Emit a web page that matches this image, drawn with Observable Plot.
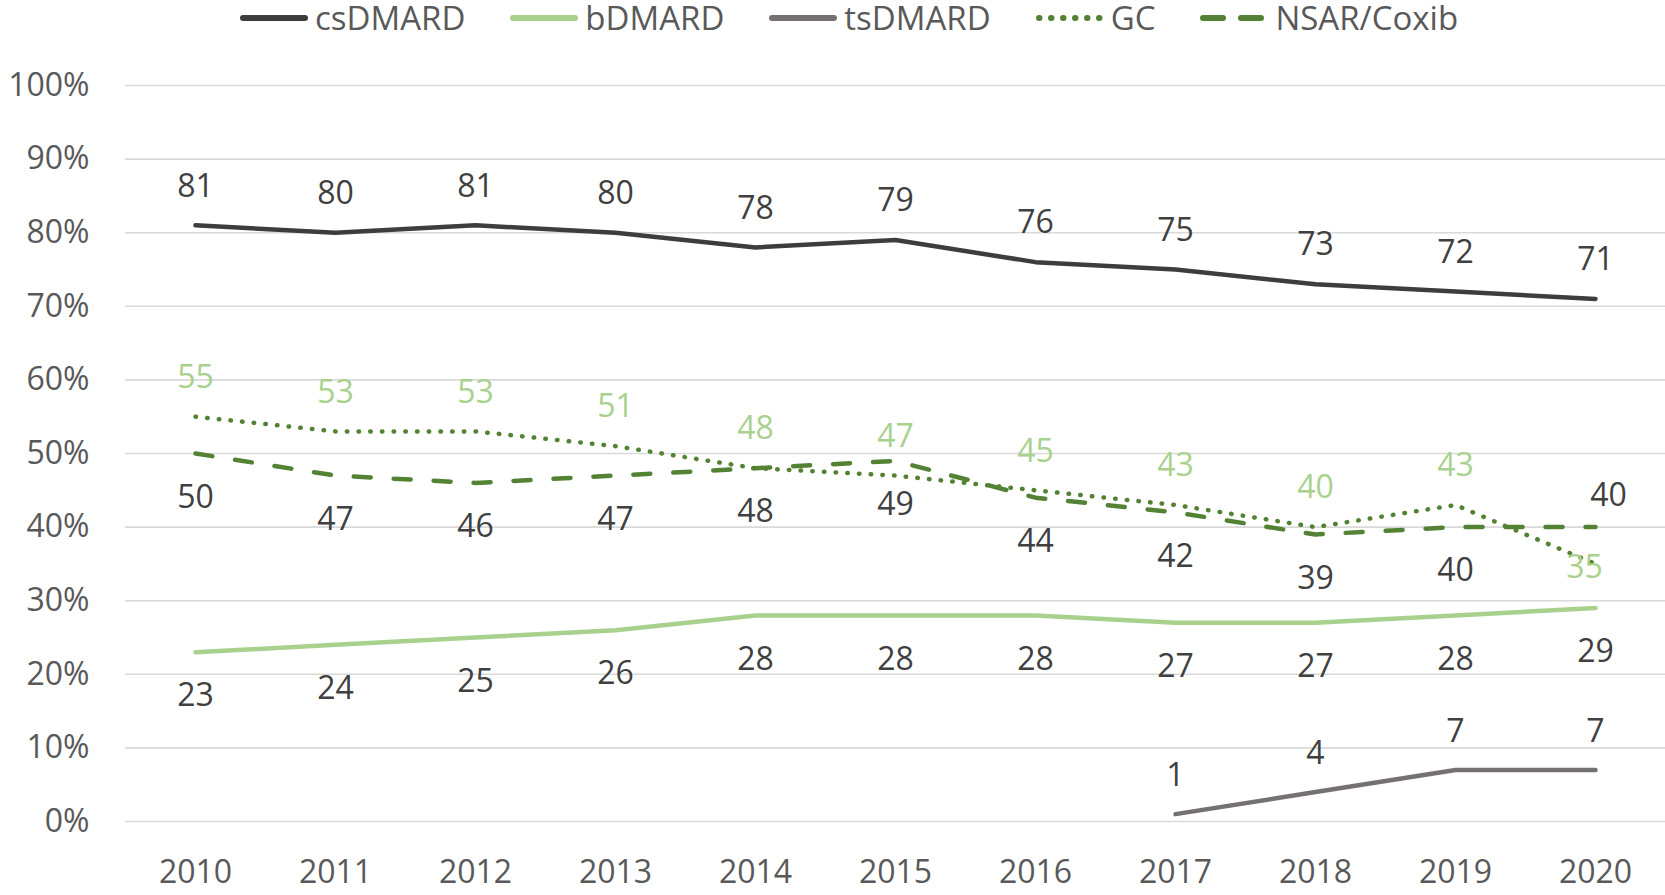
<!DOCTYPE html>
<html>
<head>
<meta charset="utf-8">
<script src="https://cdn.jsdelivr.net/npm/d3@7"></script>
<script src="https://cdn.jsdelivr.net/npm/@observablehq/plot@0.6"></script>
<style>
  html, body { margin: 0; padding: 0; background: #fff; }
  body { width: 1665px; height: 895px; overflow: hidden; font-family: "Open Sans", sans-serif; }
  #legend { position: relative; height: 36px; display: flex; align-items: center; padding-left: 239px; box-sizing: border-box; }
  .item { display: flex; align-items: center; margin-right: 44px; font-size: 33px; color: #595959; height: 36px; }
  .item svg { margin-right: 6px; }
  .item .lab { display: inline-block; line-height: 32px; height: 32px; }
</style>
</head>
<body>
<div id="legend"></div>
<div id="chart"></div>
<script>
const years = ["2010","2011","2012","2013","2014","2015","2016","2017","2018","2019","2020"];
const csDMARD = [81, 80, 81, 80, 78, 79, 76, 75, 73, 72, 71];
const bDMARD  = [23, 24, 25, 26, 28, 28, 28, 27, 27, 28, 29];
const tsYears = ["2017","2018","2019","2020"];
const tsDMARD = [1, 4, 7, 7];
const GC      = [55, 53, 53, 51, 48, 47, 45, 43, 40, 43, 35];
const NSAR    = [50, 47, 46, 47, 48, 49, 44, 42, 39, 40, 40];
const yTicks  = [0, 10, 20, 30, 40, 50, 60, 70, 80, 90, 100];

const seriesNames = ["csDMARD", "bDMARD", "tsDMARD", "GC", "NSAR/Coxib"];
const seriesColors = ["#3d3d3d", "#a9d18e", "#767171", "#548235", "#548235"];
const seriesDash = [null, null, null, "0.5 11.2", "17 23"];

const rows = (name, xs, vs) => vs.map((v, i) => ({series: name, year: xs[i], value: v}));
const csRows = rows("csDMARD", years, csDMARD);
const bRows = rows("bDMARD", years, bDMARD);
const tsRows = rows("tsDMARD", tsYears, tsDMARD);
const gcRows = rows("GC", years, GC);
const nsRows = rows("NSAR/Coxib", years, NSAR);

// Legend
const legend = document.getElementById("legend");
seriesNames.forEach((name, i) => {
  const item = document.createElement("div");
  item.className = "item";
  const ns = "http://www.w3.org/2000/svg";
  const svg = document.createElementNS(ns, "svg");
  svg.setAttribute("width", 70); svg.setAttribute("height", 10);
  const ln = document.createElementNS(ns, "line");
  ln.setAttribute("x1", 4); ln.setAttribute("x2", 66);
  ln.setAttribute("y1", 5); ln.setAttribute("y2", 5);
  ln.setAttribute("stroke", seriesColors[i]);
  ln.setAttribute("stroke-width", 6);
  ln.setAttribute("stroke-linecap", "round");
  if (i === 3) ln.setAttribute("stroke-dasharray", "0.5 11.5");
  if (i === 4) ln.setAttribute("stroke-dasharray", "20 18");
  svg.appendChild(ln);
  item.appendChild(svg);
  const t = document.createElement("div");
  t.className = "lab";
  t.textContent = name;
  item.appendChild(t);
  legend.appendChild(item);
});

const lineOpts = (i) => ({
  x: "year", y: "value",
  stroke: seriesColors[i], strokeWidth: 4.5,
  strokeLinecap: "round", strokeLinejoin: "round",
  ...(seriesDash[i] ? {strokeDasharray: seriesDash[i]} : {})
});
const dark = "#404040";
const txt = (data, fill, dy, dx = 0) => Plot.text(data, {x: "year", y: "value", text: d => String(d.value), fill, dy, dx, fontSize: 32});

const chart = Plot.plot({
  width: 1665,
  height: 859,
  marginTop: 49,
  marginBottom: 74,
  marginLeft: 125,
  marginRight: 0,
  style: {fontFamily: "Open Sans", fontSize: "32px", color: "#595959", background: "#fff", overflow: "visible"},
  x: {type: "point", domain: years, padding: 0.5, label: null, tickSize: 0, tickPadding: 39},
  y: {domain: [0, 100], ticks: yTicks, tickFormat: d => d + "%", label: null, tickSize: 0, tickPadding: 36},
  marks: [
    Plot.gridY(yTicks, {stroke: "#d9d9d9", strokeOpacity: 1, strokeWidth: 1.6}),
    Plot.axisX({tickSize: 0, tickPadding: 39, label: null, fontSize: 32}),
    Plot.axisY(yTicks, {tickSize: 0, tickPadding: 36, tickFormat: d => d + "%", label: null, fontSize: 32}),
    Plot.line(csRows, lineOpts(0)),
    Plot.line(bRows, lineOpts(1)),
    Plot.line(tsRows, lineOpts(2)),
    Plot.line(gcRows, lineOpts(3)),
    Plot.line(nsRows, lineOpts(4)),
    txt(csRows, dark, -39),
    txt(bRows, dark, 44),
    txt(tsRows, dark, -38),
    txt(gcRows.filter(d => d.year !== "2020"), "#a9d18e", -39),
    txt(gcRows.filter(d => d.year === "2020"), "#a9d18e", 4, -11),
    txt(nsRows.filter(d => d.year !== "2020"), dark, 44),
    txt(nsRows.filter(d => d.year === "2020"), dark, -31, 13)
  ]
});
document.getElementById("chart").appendChild(chart);
</script>
</body>
</html>
